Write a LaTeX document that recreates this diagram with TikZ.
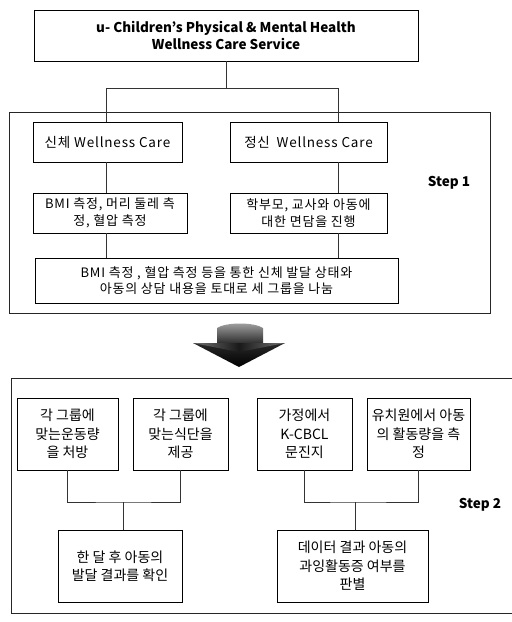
\documentclass[tikz,border=0pt]{standalone}
\usepackage{fontspec}
\setmainfont{Noto Sans CJK KR}
\usepackage{tikz}
\tikzset{
  carebox/.style={rectangle,draw=black,line width=0.9pt,fill=white,
    align=center,inner sep=1pt,
    font=\fontsize{13}{17}\selectfont\addfontfeature{LetterSpace=6}},
  taskbox/.style={carebox,minimum height=72pt,
    font=\fontsize{14}{18.5}\selectfont},
  titlebox/.style={carebox,font=\bfseries\fontsize{13.5}{17}\selectfont},
  steplabel/.style={font=\bfseries\fontsize{13.5}{15}\selectfont},
  stepframe/.style={line width=0.9pt,black!85},
  linkedge/.style={line width=0.8pt,black!80}
}

\begin{document}
\begin{tikzpicture}[x=1pt,y=-1pt]
  \useasboundingbox (0,0) rectangle (512,622);

  % top
  \node[titlebox,minimum width=384pt,minimum height=51pt] (service) at (226,35.5)
    {u- Children’s Physical \& Mental Health\\Wellness Care Service};

  % step 1
  \draw[stepframe] (9,112) rectangle (490,313);
  \node[carebox,minimum width=149pt,minimum height=40pt,
    font=\fontsize{13.5}{15}\selectfont\addfontfeature{LetterSpace=6}] (phys) at (107.5,142)
    {신체 Wellness Care};
  \node[carebox,minimum width=157pt,minimum height=40pt,
    font=\fontsize{13.5}{15}\selectfont\addfontfeature{LetterSpace=6}] (ment) at (308.5,142)
    {정신\enspace Wellness Care};
  \node[carebox,minimum width=154pt,minimum height=40pt] (bmi) at (110,213)
    {BMI 측정, 머리 둘레 측\\정, 혈압 측정};
  \node[carebox,minimum width=157pt,minimum height=40pt] (intv) at (308.5,213)
    {학부모, 교사와 아동에\\대한 면담을 진행};
  \node[carebox,minimum width=363pt,minimum height=45pt,
    font=\fontsize{13}{15.5}\selectfont\addfontfeature{LetterSpace=6}] (group) at (216.5,280.5)
    {BMI 측정 , 혈압 측정 등을 통한 신체 발달 상태와\\아동의 상담 내용을 토대로 세 그룹을 나눔};
  \node[steplabel] (step1) at (449,183) {Step 1};

  \coordinate (splitL) at (106,88);
  \coordinate (splitR) at (338,88);
  \draw[linkedge] (service.south) |- (splitL);
  \draw[linkedge] (splitL) -- (splitR);
  \draw[linkedge] (splitL) -- (splitL |- phys.north);
  \draw[linkedge] (splitR) -- (splitR |- ment.north);
  \draw[linkedge] (splitL |- phys.south) -- (splitL |- bmi.north);
  \draw[linkedge] (splitR |- ment.south) -- (splitR |- intv.north);
  \draw[linkedge] (splitL |- bmi.south) -- (splitL |- group.north);
  \draw[linkedge] (splitR |- intv.south) -- (splitR |- group.north);

  % arrow
  \shade[top color=black!35,bottom color=black,middle color=black!85]
    (217,328) .. controls (226,322) and (254,322) .. (263,328) -- (263,343)
    -- (285,343) -- (239,367) -- (193,343) -- (217,343) -- cycle;
  \shade[left color=black!55,right color=black!55,middle color=black!90]
    (193,343) -- (217,343) -- (263,343) -- (285,343) -- (239,352) -- cycle;

  % step 2
  \draw[stepframe] (512,378) -- (11,378) -- (11,613) -- (512,613);
  \node[taskbox,minimum width=101pt] (exer) at (67.5,434) {각 그룹에\\맞는운동량\\을 처방};
  \node[taskbox,minimum width=95pt] (diet) at (180.5,434) {각 그룹에\\맞는식단을\\제공};
  \node[taskbox,minimum width=95pt] (cbcl) at (304.5,434) {가정에서\\K-CBCL\\문진지};
  \node[taskbox,minimum width=103pt] (actv) at (418.5,434) {유치원에서 아동\\의 활동량을 측\\정};
  \node[taskbox,minimum width=124pt] (check) at (120,566) {한 달 후 아동의\\발달 결과를 확인};
  \node[taskbox,minimum width=151pt] (judge) at (352.5,566)
    {데이터 결과 아동의\\과잉활동증 여부를\\판별};
  \node[steplabel] (step2) at (480,505) {Step 2};

  \coordinate (mergeL) at (123,502);
  \coordinate (mergeR) at (355,502);
  \draw[linkedge] (exer.south) |- (mergeL) -| (diet.south);
  \draw[linkedge] (cbcl.south) |- (mergeR) -| (actv.south);
  \draw[linkedge] (mergeL) -- (mergeL |- check.north);
  \draw[linkedge] (mergeR) -- (mergeR |- judge.north);
\end{tikzpicture}
\end{document}
